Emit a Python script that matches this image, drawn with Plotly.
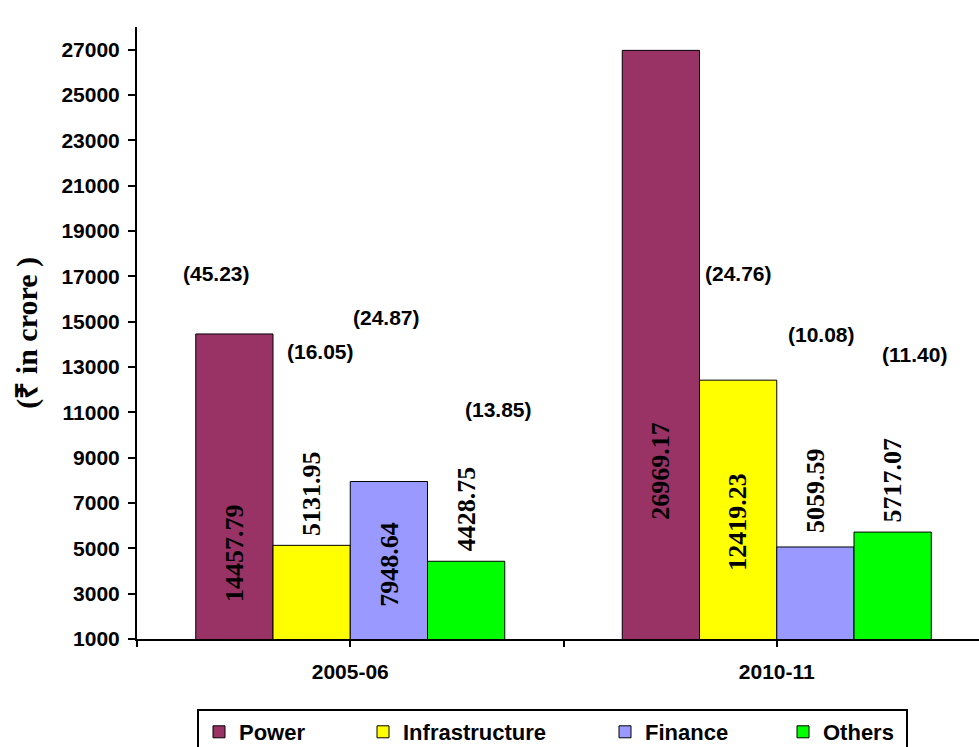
import plotly.graph_objects as go

# ---- data -------------------------------------------------------------
years = ["2005-06", "2010-11"]
sectors = ["Power", "Infrastructure", "Finance", "Others"]
power = [14457.79, 26969.17]
infrastructure = [5131.95, 12419.23]
finance = [7948.64, 5059.59]
others = [4428.75, 5717.07]
# percentage share of each sector in the year's total
share_power = [45.23, 53.76]
share_infrastructure = [16.05, 24.76]
share_finance = [24.87, 10.08]
share_others = [13.85, 11.40]
y_ticks = list(range(1000, 28000, 2000))

# ---- styling / layout constants -------------------------------------------
colors = ["#993366", "#FFFF00", "#9999FF", "#00FF00"]
SANS = "Liberation Sans"
SERIF = "Liberation Serif"
BARGAP = 0.2755
BAR_W = (1 - BARGAP) / len(sectors)

# label anchor points (y centre in axis units) for the rotated value labels
value_label_y = [[4816, 7428, 4309, 6726], [8412, 6175, 7547, 8015]]
# share label anchors: (x offset from category centre, y in axis units)
share_label_pos = [
    [(-0.313, 17134), (-0.069, 13675), (0.086, 15162), (0.348, 11147)],
    [(-0.254, 28194), (-0.089, 17116), (0.106, 14456), (0.322, 13543)],
]
legend_widths = [119, 197, 133, 78]

series = [power, infrastructure, finance, others]
shares = [share_power, share_infrastructure, share_finance, share_others]
x_idx = list(range(len(years)))

fig = go.Figure()
for name, vals, col, lw in zip(sectors, series, colors, legend_widths):
    fig.add_trace(go.Bar(
        x=x_idx, y=vals, name=name,
        marker=dict(color=col, line=dict(color="black", width=1)),
        legendwidth=lw,
    ))

annotations = []
for yi in x_idx:
    for si in range(len(sectors)):
        xc = yi + (si - (len(sectors) - 1) / 2) * BAR_W
        annotations.append(dict(
            x=xc, y=value_label_y[yi][si], xref="x", yref="y",
            text=f"{series[si][yi]:.2f}", showarrow=False, textangle=-90,
            xanchor="center", yanchor="middle",
            font=dict(family=SERIF, size=26, color="black", weight="bold"),
        ))
        dx, yy = share_label_pos[yi][si]
        annotations.append(dict(
            x=yi + dx, y=yy, xref="x", yref="y",
            text=f"({shares[si][yi]:.2f})", showarrow=False,
            xanchor="center", yanchor="middle",
            font=dict(family=SANS, size=21, color="black", weight="bold"),
        ))

annotations.append(dict(
    x=-0.131, y=0.5, xref="paper", yref="paper",
    text="(₹ in crore )", showarrow=False, textangle=-90,
    xanchor="center", yanchor="middle",
    font=dict(family=SERIF, size=30, color="black", weight="bold"),
))

plot_w = 979 - 137
cat_px = 426.5
fig.update_layout(
    width=979, height=747,
    margin=dict(l=137, r=0, t=27, b=108, autoexpand=False),
    paper_bgcolor="white", plot_bgcolor="white",
    barmode="group", bargap=BARGAP, bargroupgap=0,
    showlegend=True,
    legend=dict(
        orientation="h", x=(197 - 137) / plot_w, y=(639 - 709) / 612,
        xanchor="left", yanchor="top",
        bordercolor="black", borderwidth=2, bgcolor="white",
        font=dict(family=SANS, size=22, color="black", weight="bold"),
        traceorder="normal",
    ),
    annotations=annotations,
    xaxis=dict(
        range=[-0.5, -0.5 + plot_w / cat_px],
        tickvals=[-0.5, 0, 0.5, 1, 1.5],
        ticktext=["", years[0], "", years[1], ""],
        ticks="outside", ticklen=6, tickwidth=1.5, tickcolor="black",
        showline=True, linecolor="black", linewidth=2,
        showgrid=False, zeroline=False,
        ticklabelstandoff=7,
        tickfont=dict(family=SANS, size=21, color="black", weight="bold"),
    ),
    yaxis=dict(
        range=[1000, 28000],
        tickvals=y_ticks,
        tickformat="d",
        ticks="outside", ticklen=7, tickwidth=1.5, tickcolor="black",
        showline=True, linecolor="black", linewidth=2,
        showgrid=False, zeroline=False,
        ticklabelstandoff=4,
        tickfont=dict(family=SANS, size=21, color="black", weight="bold"),
    ),
)

fig.write_html("out.html")
